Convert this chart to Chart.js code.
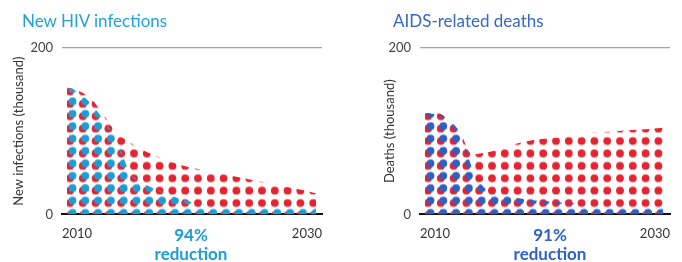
<!DOCTYPE html>
<html>
<head>
<meta charset="utf-8">
<script src="https://cdn.jsdelivr.net/npm/chart.js@4"></script>
<style>
  html, body { margin: 0; padding: 0; background: #fff; }
  body { width: 682px; height: 262px; position: relative; overflow: hidden; font-family: Lato, "Open Sans", sans-serif; }
  .box { position: absolute; top: 0; height: 262px; }
  .title { position: absolute; top: 12px; font-size: 17px; line-height: 1; white-space: nowrap; }
  .note { position: absolute; font-weight: bold; font-size: 17px; line-height: 1; text-align: center; width: 120px; }
</style>
</head>
<body>
<div class="box" style="left:0;width:340px"><canvas id="infections"></canvas></div>
<div class="box" style="left:340px;width:342px"><canvas id="deaths"></canvas></div>

<div class="title" style="left:22px;color:#22a2d8">New HIV infections</div>
<div class="title" style="left:393px;color:#3568c2">AIDS-related deaths</div>

<div class="note" style="left:131px;top:226px;color:#1c9dd6">94%</div>
<div class="note" style="left:131px;top:245px;color:#1c9dd6">reduction</div>
<div class="note" style="left:490px;top:226px;color:#2e62c4">91%</div>
<div class="note" style="left:490px;top:245px;color:#2e62c4">reduction</div>

<script>
const years = [2010, 2011, 2012, 2013, 2014, 2015, 2016, 2017, 2018, 2019, 2020,
  2021, 2022, 2023, 2024, 2025, 2026, 2027, 2028, 2029, 2030];
const xTickLabels = ["2010", "2030"];

// new infections (thousand)
const infectionsBaseline = [153, 148, 138, 118, 98, 87, 78, 71, 65, 60, 56,
  53, 50, 47, 44, 41, 38, 35, 32, 29, 25];
const infectionsFastTrack = [153, 146, 132, 112, 90, 52, 39, 31, 25, 19, 15,
  12, 11, 10, 10, 9, 9, 9, 9, 8, 8];

// AIDS-related deaths (thousand)
const deathsBaseline = [122, 122, 114, 97, 72, 74, 77, 82, 86, 89, 91,
  92, 94, 96, 98, 99, 100, 101, 102, 103, 104];
const deathsFastTrack = [120, 121, 113, 97, 55, 32, 26, 22, 19, 17, 16,
  15, 14, 13, 12, 12, 11, 11, 11, 11, 11];

const RED = "#e52331";
const CYAN = "#1b9dd6";
const BLUE = "#2d60c4";

// dot tile: 5 x 5 dots, 12.8px across, 12.4px down
function dotPattern(color, dx, dy) {
  const c = document.createElement("canvas");
  c.width = 64;
  c.height = 62;
  const g = c.getContext("2d");
  g.fillStyle = color;
  for (let i = 0; i < 5; i++) {
    for (let j = 0; j < 5; j++) {
      for (const ox of [-64, 0, 64]) {
        for (const oy of [-62, 0, 62]) {
          g.beginPath();
          g.arc(i * 12.8 + dx + ox, j * 12.4 + dy + oy, 3.9, 0, Math.PI * 2);
          g.fill();
        }
      }
    }
  }
  return g.createPattern(c, "repeat");
}

const pinPatterns = {
  id: "pinPatterns",
  beforeDatasetsDraw(chart) {
    const a = chart.chartArea;
    chart.data.datasets.forEach((ds) => {
      ds.backgroundColor.setTransform(new DOMMatrix([1, 0, 0, 1, a.left + 8, a.bottom + 1]));
    });
  },
};

const points = (vals) => years.map((y, i) => ({ x: y, y: vals[i] }));

function makeChart(id, fastTrack, baseline, topColor, yTitle, o) {
  const ctx = document.getElementById(id).getContext("2d");
  return new Chart(ctx, {
    type: "line",
    data: {
      datasets: [
        {
          data: points(fastTrack),
          backgroundColor: dotPattern(topColor, 2.5, -2.5),
          borderWidth: 0,
          pointRadius: 0,
          fill: "origin",
          tension: 0.35,
          cubicInterpolationMode: "monotone",
        },
        {
          data: points(baseline),
          backgroundColor: dotPattern(RED, 0, 0),
          borderWidth: 0,
          pointRadius: 0,
          fill: "origin",
          tension: 0.35,
          cubicInterpolationMode: "monotone",
        },
      ],
    },
    options: {
      responsive: true,
      maintainAspectRatio: false,
      animation: false,
      layout: { padding: { left: 0, right: o.right, top: 48, bottom: 8 } },
      scales: {
        x: {
          type: "linear",
          min: o.xMin,
          max: o.xMax,
          bounds: "data",
          z: 1,
          grid: { display: false, drawTicks: false },
          border: { display: true, color: "#111", width: 2 },
          afterBuildTicks: (s) => {
            s.ticks = [{ value: s.min }, { value: s.max }];
          },
          ticks: {
            align: "inner",
            maxRotation: 0,
            padding: 12,
            color: "#333",
            font: { family: "Lato", size: 13 },
            callback: (v, i) => xTickLabels[i],
          },
        },
        y: {
          min: 0,
          max: 200,
          afterFit: (s) => {
            s.width = o.yWidth;
          },
          grid: {
            drawTicks: false,
            lineWidth: 1.2,
            color: (c) => (c.tick && c.tick.value === 200 ? "#a3a3a3" : "rgba(0,0,0,0)"),
          },
          border: { display: false },
          ticks: {
            stepSize: 200,
            padding: 9,
            color: "#444",
            font: { family: "Lato", size: 13 },
          },
          title: {
            display: true,
            text: yTitle,
            color: "#333",
            font: { family: "Lato", size: 13 },
            padding: { top: o.titlePad, bottom: 0 },
          },
        },
      },
      plugins: {
        legend: { display: false },
        tooltip: { enabled: false },
      },
    },
    plugins: [pinPatterns],
  });
}

makeChart("infections", infectionsFastTrack, infectionsBaseline, CYAN, "New infections (thousand)",
  { right: 18, xMin: 2009.6, xMax: 2030.48, yWidth: 62, titlePad: 11 });
makeChart("deaths", deathsFastTrack, deathsBaseline, BLUE, "Deaths (thousand)",
  { right: 0, xMin: 2009.6, xMax: 2030.56, yWidth: 80, titlePad: 42 });
</script>
</body>
</html>
